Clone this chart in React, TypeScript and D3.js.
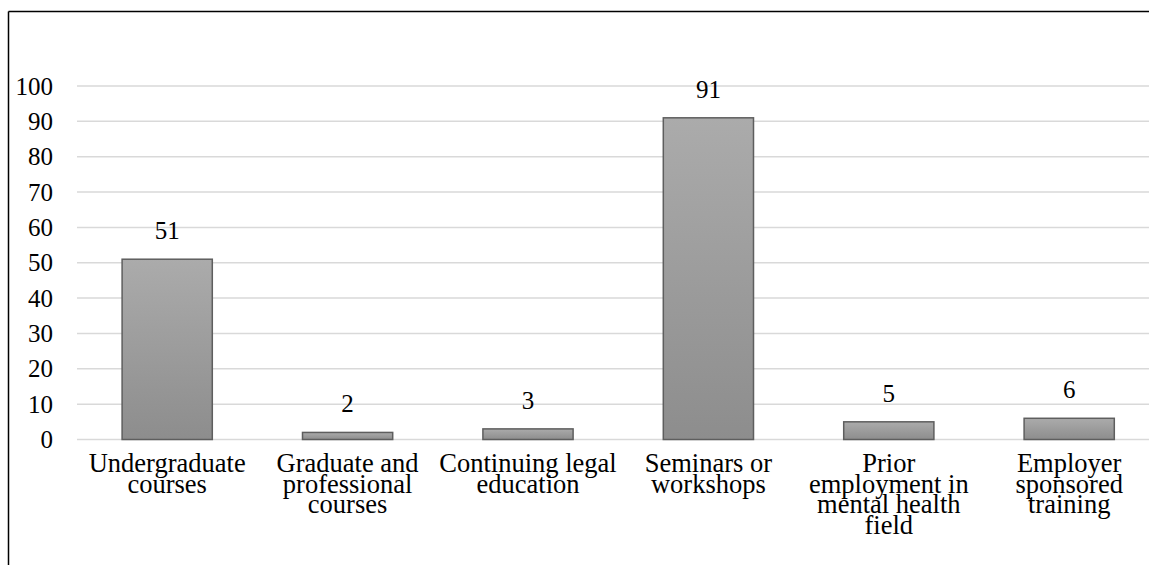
import React, { useRef, useEffect } from 'react';
import * as d3 from 'd3';

// Chart data
const categories = [
  'Undergraduate courses',
  'Graduate and professional courses',
  'Continuing legal education',
  'Seminars or workshops',
  'Prior employment in mental health field',
  'Employer sponsored training',
];
const counts = [51, 2, 3, 91, 5, 6];
const yTicks = [0, 10, 20, 30, 40, 50, 60, 70, 80, 90, 100];

const W = 1149;
const H = 565;

const App = () => {
  const ref = useRef<SVGSVGElement>(null);

  useEffect(() => {
    const root = d3.select(ref.current);
    root.selectAll('*').remove();

    const font = "'Times New Roman', 'Liberation Serif', Tinos, 'DejaVu Serif', serif";
    const fontSize = 25;
    const catFontSize = 26.5;

    // plot area
    const left = 77;
    const bandW = 180.4;
    const y0 = 439.5;
    const y100 = 86;

    const x = d3.scaleBand<string>()
      .domain(categories)
      .range([left, left + bandW * categories.length])
      .paddingInner(0.5)
      .paddingOuter(0.25);

    const y = d3.scaleLinear().domain([0, 100]).range([y0, y100]);

    // gradient for bars
    const defs = root.append('defs');
    const grad = defs.append('linearGradient')
      .attr('id', 'barGrad')
      .attr('x1', 0).attr('y1', 0).attr('x2', 0).attr('y2', 1);
    grad.append('stop').attr('offset', '0%').attr('stop-color', '#ababab');
    grad.append('stop').attr('offset', '100%').attr('stop-color', '#8d8d8d');

    // outer frame (left and top edges visible)
    root.append('line')
      .attr('x1', 8.5).attr('x2', 8.5).attr('y1', 11.5).attr('y2', H)
      .attr('stroke', '#000').attr('stroke-width', 1.5);
    root.append('line')
      .attr('x1', 8.5).attr('x2', W).attr('y1', 11.5).attr('y2', 11.5)
      .attr('stroke', '#000').attr('stroke-width', 1.5);

    // gridlines
    root.append('g')
      .selectAll('line')
      .data(yTicks)
      .join('line')
      .attr('x1', left)
      .attr('x2', W)
      .attr('y1', d => y(d))
      .attr('y2', d => y(d))
      .attr('stroke', '#d9d9d9')
      .attr('stroke-width', 1.5);

    // y tick labels
    root.append('g')
      .selectAll('text')
      .data(yTicks)
      .join('text')
      .attr('x', 53)
      .attr('y', d => y(d))
      .attr('dy', '0.34em')
      .attr('text-anchor', 'end')
      .attr('font-family', font)
      .attr('font-size', fontSize)
      .attr('fill', '#000')
      .text(d => d);

    // bars
    root.append('g')
      .selectAll('rect')
      .data(counts)
      .join('rect')
      .attr('x', (d, i) => x(categories[i])!)
      .attr('width', x.bandwidth())
      .attr('y', d => y(d))
      .attr('height', d => y0 - y(d))
      .attr('fill', 'url(#barGrad)')
      .attr('stroke', '#5e5e5e')
      .attr('stroke-width', 1.5);

    // value labels
    root.append('g')
      .selectAll('text')
      .data(counts)
      .join('text')
      .attr('x', (d, i) => x(categories[i])! + x.bandwidth() / 2)
      .attr('y', d => y(d) - 20)
      .attr('text-anchor', 'middle')
      .attr('font-family', font)
      .attr('font-size', fontSize)
      .attr('fill', '#000')
      .text(d => d);

    // category labels, wrapped to the band width
    const wrapW = 185;
    const lineH = 20.5;
    const labels = root.append('g');
    categories.forEach(cat => {
      const cx = x(cat)! + x.bandwidth() / 2;
      const t = labels.append('text')
        .attr('x', cx)
        .attr('y', 472)
        .attr('text-anchor', 'middle')
        .attr('font-family', font)
        .attr('font-size', catFontSize)
        .attr('fill', '#000');
      const words = cat.split(' ');
      let line: string[] = [];
      let n = 0;
      let tspan = t.append('tspan').attr('x', cx).attr('y', 472);
      words.forEach(w => {
        line.push(w);
        tspan.text(line.join(' '));
        if ((tspan.node() as SVGTSpanElement).getComputedTextLength() > wrapW && line.length > 1) {
          line.pop();
          tspan.text(line.join(' '));
          line = [w];
          n += 1;
          tspan = t.append('tspan').attr('x', cx).attr('y', 472 + n * lineH).text(w);
        }
      });
    });
  }, []);

  return (
    <svg
      ref={ref}
      width={W}
      height={H}
      style={{ position: 'absolute', left: 0, top: 0, background: '#fff' }}
    />
  );
};

export default App;
